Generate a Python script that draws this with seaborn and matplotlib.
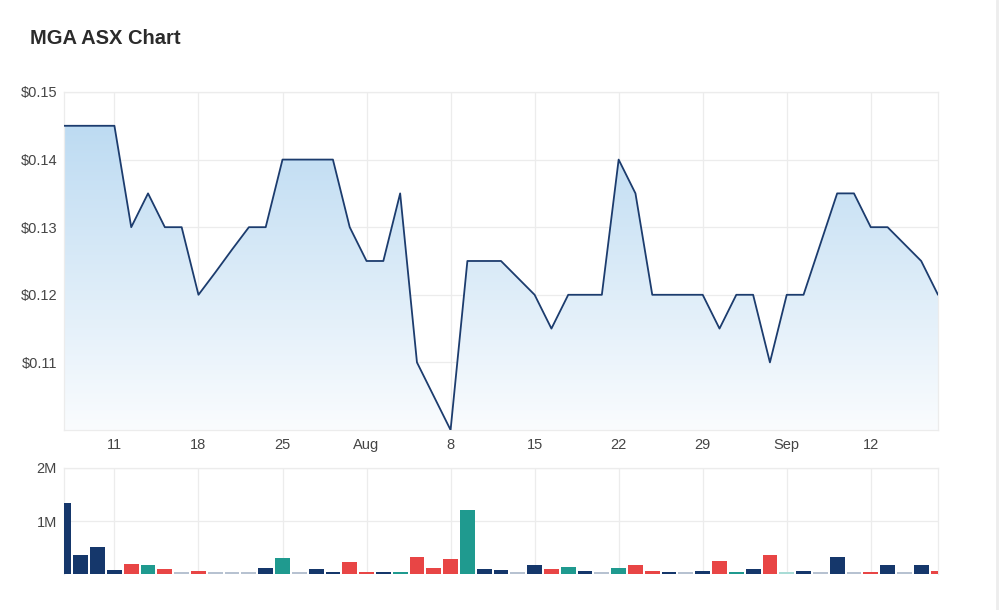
import numpy as np
import pandas as pd
import matplotlib
matplotlib.use("Agg")
import matplotlib.pyplot as plt
import seaborn as sns
from matplotlib.colors import LinearSegmentedColormap

# ---------------- data ----------------
prices = [0.145, 0.145, 0.145, 0.145, 0.130, 0.135, 0.130, 0.130, 0.120, 0.1233,
          0.1267, 0.130, 0.130, 0.140, 0.140, 0.140, 0.140, 0.130, 0.125, 0.125,
          0.135, 0.110, 0.105, 0.100, 0.125,
          0.125, 0.125, 0.1225, 0.120, 0.115, 0.120, 0.120, 0.120, 0.140, 0.135,
          0.120, 0.120, 0.120, 0.120, 0.115, 0.120, 0.120, 0.110, 0.120, 0.120,
          0.1275, 0.135, 0.135, 0.130, 0.130, 0.1275, 0.125, 0.120]

volumes_m = [1.34, 0.35, 0.51, 0.07, 0.19, 0.17, 0.095, 0.03, 0.05, 0.03,
             0.03, 0.03, 0.11, 0.31, 0.03, 0.09, 0.03, 0.23, 0.03, 0.03,
             0.03, 0.33, 0.11, 0.29, 1.20,
             0.095, 0.07, 0.03, 0.17, 0.095, 0.13, 0.05, 0.03, 0.11, 0.17,
             0.05, 0.03, 0.03, 0.05, 0.25, 0.03, 0.095, 0.35, 0.03, 0.05,
             0.03, 0.33, 0.03, 0.03, 0.17, 0.03, 0.17, 0.05]

bar_kind = ["n", "n", "n", "n", "r", "t", "r", "g", "r", "g",
            "g", "g", "n", "t", "g", "n", "n", "r", "r", "n",
            "t", "r", "r", "r", "t",
            "n", "n", "g", "n", "r", "t", "n", "g", "t", "r",
            "r", "n", "g", "n", "r", "t", "n", "r", "lt", "n",
            "g", "n", "g", "r", "n", "g", "n", "r"]

tick_days = [3, 8, 13, 18, 23, 28, 33, 38, 43, 48]
tick_labels = ["11", "18", "25", "Aug", "8", "15", "22", "29", "Sep", "12"]

price_ticks = [0.11, 0.12, 0.13, 0.14, 0.15]
price_tick_labels = ["$0.11", "$0.12", "$0.13", "$0.14", "$0.15"]
vol_ticks = [1_000_000, 2_000_000]
vol_tick_labels = ["1M", "2M"]

title = "MGA ASX Chart"

# ---------------- styling ----------------
sns.set_theme(style="white")
plt.rcParams["font.family"] = ["Liberation Sans", "DejaVu Sans"]

palette = {"n": "#15376b", "r": "#e84545", "t": "#1f9a8f",
           "g": "#b7c2d1", "lt": "#a9dcd6"}
line_color = "#1c3c6e"
grid_color = "#ececec"
tick_color = "#454545"

n = len(prices)
df = pd.DataFrame({"day": np.arange(n), "price": prices,
                   "volume": np.array(volumes_m) * 1e6, "kind": bar_kind})

fig = plt.figure(figsize=(10, 6.1), dpi=100)
fig.patch.set_facecolor("white")

ax = fig.add_axes([0.064, 0.2951, 0.874, 0.5541])
axv = fig.add_axes([0.064, 0.0590, 0.874, 0.1738])

# ---- price panel ----
ymin, ymax = 0.10, 0.15
sns.lineplot(data=df, x="day", y="price", ax=ax, color=line_color,
             linewidth=1.3, zorder=4)
poly = ax.fill_between(df["day"], df["price"], ymin, color="none", zorder=2)
cmap = LinearSegmentedColormap.from_list("grad", ["#fafcfe", "#bddbf2"])
grad = np.linspace(0, 1, 256).reshape(-1, 1)
im = ax.imshow(grad, extent=[0, n - 1, ymin, max(prices)], origin="lower",
               aspect="auto", cmap=cmap, zorder=2)
path = poly.get_paths()[0]
im.set_clip_path(path, transform=ax.transData)

ax.set_xlim(0, n - 1)
ax.set_ylim(ymin, ymax)
ax.set_xticks(tick_days)
ax.set_xticklabels(tick_labels)
ax.set_yticks(price_ticks)
ax.set_yticklabels(price_tick_labels)
ax.set_xlabel("")
ax.set_ylabel("")
ax.grid(True, color=grid_color, linewidth=0.9)
ax.set_axisbelow(True)
for s in ax.spines.values():
    s.set_color(grid_color)
    s.set_linewidth(0.9)
ax.tick_params(axis="both", length=0, labelsize=10.5, colors=tick_color)
ax.tick_params(axis="x", pad=6)
ax.tick_params(axis="y", pad=5)

# ---- volume panel ----
sns.barplot(data=df, x="day", y="volume", hue="kind", palette=palette,
            dodge=False, legend=False, ax=axv, width=0.88, linewidth=0,
            saturation=1, native_scale=True, zorder=3)
axv.set_xlim(0, n - 1)
axv.set_ylim(0, 2_000_000)
axv.set_xticks(tick_days)
axv.set_xticklabels([])
axv.set_yticks(vol_ticks)
axv.set_yticklabels(vol_tick_labels)
axv.set_xlabel("")
axv.set_ylabel("")
axv.grid(True, color=grid_color, linewidth=0.9)
axv.set_axisbelow(True)
for s in axv.spines.values():
    s.set_color(grid_color)
    s.set_linewidth(0.9)
axv.spines["bottom"].set_visible(False)
axv.tick_params(axis="both", length=0, labelsize=10.5, colors=tick_color)
axv.tick_params(axis="y", pad=5)

# ---- title and frame ----
fig.text(0.030, 0.937, title, fontsize=14.5, fontweight="bold",
         color="#2b2b2b", ha="left", va="center")
fig.add_artist(plt.Line2D([0.997, 0.997], [0, 1], color="#ededed",
                          linewidth=2, transform=fig.transFigure))

fig.savefig("out.png", dpi=100, facecolor="white")
